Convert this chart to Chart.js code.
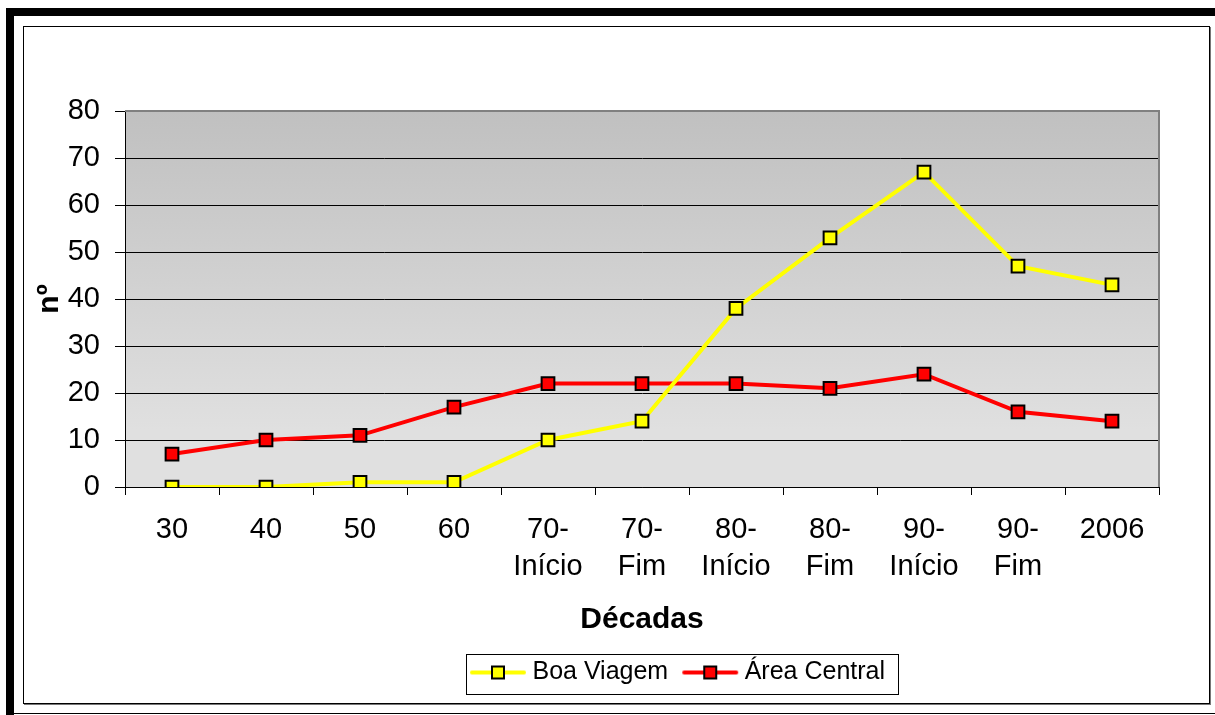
<!DOCTYPE html>
<html>
<head>
<meta charset="utf-8">
<script src="https://cdn.jsdelivr.net/npm/chart.js@4"></script>
<style>
  html, body { margin: 0; padding: 0; background: #fff; }
  #page { position: relative; width: 1215px; height: 715px; overflow: hidden; }
  #topBar { position: absolute; left: 6px; top: 8px; width: 1209px; height: 8px; background: #000; }
  #leftBar { position: absolute; left: 6px; top: 8px; width: 8px; height: 707px; background: #000; }
  #bottomLine { position: absolute; left: 14px; top: 713px; width: 1201px; height: 1px; background: #000; }
  #frame { position: absolute; left: 23px; top: 26px; width: 1185px; height: 676px;
           border: 1px solid #000; box-shadow: 1px 1px 0 #777; }
  #chart { position: absolute; left: 0; top: 0; }
</style>
</head>
<body>
<div id="page">
  <div id="topBar"></div>
  <div id="leftBar"></div>
  <div id="bottomLine"></div>
  <div id="frame"></div>
  <canvas id="chart" width="1215" height="715"></canvas>
</div>
<script>
var decadas = ['30', '40', '50', '60', ['70-', 'Início'], ['70-', 'Fim'], ['80-', 'Início'], ['80-', 'Fim'], ['90-', 'Início'], ['90-', 'Fim'], '2006'];
var boaViagem = [0, 0, 1, 1, 10, 14, 38, 53, 67, 47, 43];
var areaCentral = [7, 10, 11, 17, 22, 22, 22, 21, 24, 16, 14];
var yTicks = [0, 10, 20, 30, 40, 50, 60, 70, 80];

var FONT = '"Liberation Sans", Arial, sans-serif';

function legendIcon(color) {
    var c = document.createElement('canvas');
    c.width = 58;
    c.height = 18;
    var g = c.getContext('2d');
    g.strokeStyle = color;
    g.lineWidth = 4;
    g.lineCap = 'round';
    g.beginPath();
    g.moveTo(3, 9);
    g.lineTo(55, 9);
    g.stroke();
    g.fillStyle = color;
    g.fillRect(23, 3, 12, 12);
    g.strokeStyle = '#000';
    g.lineWidth = 2;
    g.strokeRect(23, 3, 12, 12);
    return c;
}

var plotBackground = {
    id: 'plotBackground',
    beforeDraw: function(chart) {
        var a = chart.chartArea;
        var ctx = chart.ctx;
        var grad = ctx.createLinearGradient(0, a.top, 0, a.bottom);
        grad.addColorStop(0, '#c0c0c0');
        grad.addColorStop(0.85, '#e0e0e0');
        grad.addColorStop(1, '#e0e0e0');
        ctx.save();
        ctx.fillStyle = grad;
        ctx.fillRect(a.left, a.top, a.right - a.left, a.bottom - a.top);
        ctx.restore();
    },
    afterUpdate: function(chart) {
        // centre the legend row on its box like the original
        var l = chart.legend;
        var hb = l.legendHitBoxes;
        if (!hb || !hb.length) return;
        var left = hb[0].left - 10;
        var last = hb[hb.length - 1];
        var right = last.left + last.width + 13;
        var shift = 682 - (left + right) / 2;
        l.left += shift;
        l.right += shift;
        hb.forEach(function(h) { h.left += shift; });
    },
    afterDatasetsDraw: function(chart) {
        var a = chart.chartArea;
        var ctx = chart.ctx;
        ctx.save();
        ctx.strokeStyle = '#808080';
        ctx.lineWidth = 2;
        ctx.beginPath();
        ctx.moveTo(a.left, a.top);
        ctx.lineTo(a.right, a.top);
        ctx.lineTo(a.right, a.bottom);
        ctx.stroke();
        ctx.restore();
    },
    afterDraw: function(chart) {
        var hb = chart.legend.legendHitBoxes;
        if (!hb || !hb.length) return;
        var left = hb[0].left - 10;
        var last = hb[hb.length - 1];
        var right = last.left + last.width + 13;
        var cy = hb[0].top + hb[0].height / 2;
        var ctx = chart.ctx;
        ctx.save();
        ctx.strokeStyle = '#000';
        ctx.lineWidth = 1;
        ctx.strokeRect(Math.round(left) + 0.5, Math.round(cy - 20) + 1.5, Math.round(right - left), 40);
        ctx.restore();
    }
};

var ctx = document.getElementById('chart').getContext('2d');
var chart = new Chart(ctx, {
    type: 'line',
    data: {
        labels: decadas,
        datasets: [{
            label: 'Boa Viagem',
            data: boaViagem,
            borderColor: '#ffff00',
            backgroundColor: '#ffff00',
            borderWidth: 4,
            pointStyle: 'rect',
            pointRadius: 9,
            pointBorderColor: '#000',
            pointBackgroundColor: '#ffff00',
            pointBorderWidth: 2,
            tension: 0
        }, {
            label: 'Área Central',
            data: areaCentral,
            borderColor: '#ff0000',
            backgroundColor: '#ff0000',
            borderWidth: 4,
            pointStyle: 'rect',
            pointRadius: 9,
            pointBorderColor: '#000',
            pointBackgroundColor: '#ff0000',
            pointBorderWidth: 2,
            tension: 0
        }]
    },
    options: {
        responsive: false,
        animation: false,
        layout: { padding: { left: 0, right: 56, top: 111, bottom: 20 } },
        plugins: {
            tooltip: { enabled: false },
            legend: {
                position: 'bottom',
                labels: {
                    usePointStyle: true,
                    pointStyleWidth: 44,
                    padding: 20,
                    color: '#000',
                    font: { family: FONT, size: 25 },
                    generateLabels: function(ch) {
                        return ch.data.datasets.map(function(ds, i) {
                            return {
                                text: ds.label,
                                pointStyle: legendIcon(ds.borderColor),
                                fillStyle: ds.borderColor,
                                strokeStyle: ds.borderColor,
                                lineWidth: 0,
                                hidden: false,
                                datasetIndex: i,
                                fontColor: '#000'
                            };
                        });
                    }
                }
            }
        },
        scales: {
            x: {
                offset: true,
                afterFit: function(axis) { axis.height = 153; },
                grid: {
                    offset: true,
                    drawOnChartArea: false,
                    drawTicks: true,
                    tickLength: 8,
                    color: '#000'
                },
                border: { color: '#000', width: 1 },
                ticks: {
                    color: '#000',
                    maxRotation: 0,
                    autoSkip: false,
                    padding: 16,
                    font: { family: FONT, size: 29, lineHeight: 1.28 }
                },
                title: {
                    display: true,
                    text: 'Décadas',
                    color: '#000',
                    font: { family: FONT, size: 30, weight: 'bold' },
                    padding: { top: 2, bottom: 2 }
                }
            },
            y: {
                min: 0,
                max: 80,
                afterFit: function(axis) { axis.width = 125; },
                afterBuildTicks: function(axis) {
                    axis.ticks = yTicks.map(function(v) { return { value: v }; });
                },
                grid: {
                    color: '#000',
                    lineWidth: 1,
                    tickLength: 10
                },
                border: { color: '#000', width: 1 },
                ticks: {
                    color: '#000',
                    padding: 15,
                    font: { family: FONT, size: 29 }
                },
                title: {
                    display: true,
                    text: 'nº',
                    color: '#000',
                    font: { family: FONT, size: 30, weight: 'bold' },
                    padding: { top: 32, bottom: 0 }
                }
            }
        }
    },
    plugins: [plotBackground]
});
</script>
</body>
</html>
